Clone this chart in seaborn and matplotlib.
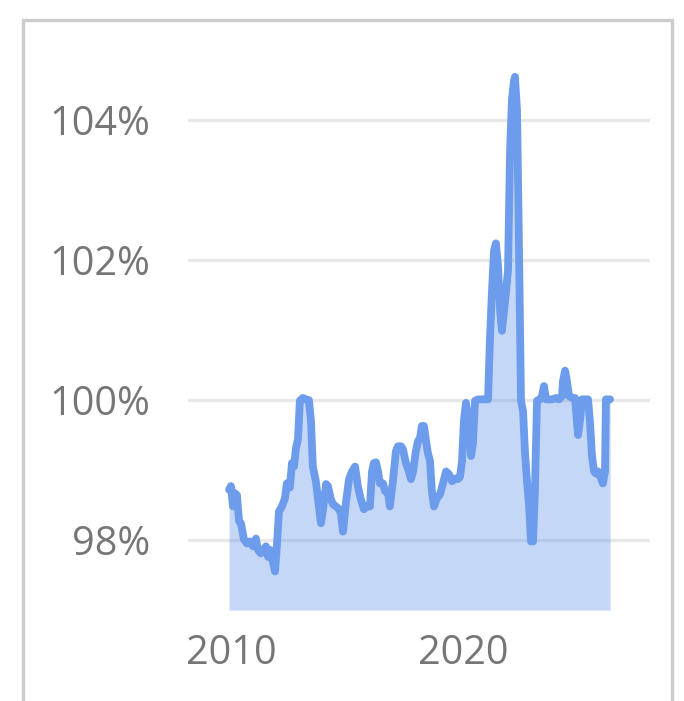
import matplotlib
matplotlib.use("Agg")
import matplotlib.pyplot as plt
from matplotlib.patches import Rectangle
import seaborn as sns
import pandas as pd

# Time (decimal year) and value (%)
years = [2009.92, 2010.00, 2010.09, 2010.17, 2010.26, 2010.35, 2010.43, 2010.56, 2010.69, 2010.82,
         2010.95, 2011.08, 2011.16, 2011.29, 2011.38, 2011.51, 2011.60, 2011.68, 2011.81, 2011.90,
         2011.98, 2012.07, 2012.20, 2012.33, 2012.41, 2012.54, 2012.63, 2012.72, 2012.80, 2012.89,
         2012.97, 2013.10, 2013.23, 2013.36, 2013.45, 2013.53, 2013.66, 2013.79, 2013.88, 2013.97,
         2014.10, 2014.18, 2014.31, 2014.40, 2014.53, 2014.66, 2014.74, 2014.83, 2014.96, 2015.09,
         2015.22, 2015.35, 2015.47, 2015.60, 2015.73, 2015.86, 2015.99, 2016.08, 2016.16, 2016.25,
         2016.34, 2016.42, 2016.55, 2016.64, 2016.77, 2016.85, 2016.98, 2017.11, 2017.20, 2017.33,
         2017.41, 2017.54, 2017.67, 2017.76, 2017.85, 2017.97, 2018.06, 2018.15, 2018.23, 2018.32,
         2018.41, 2018.49, 2018.58, 2018.66, 2018.75, 2018.88, 2019.01, 2019.14, 2019.27, 2019.40,
         2019.53, 2019.66, 2019.78, 2019.87, 2019.96, 2020.04, 2020.13, 2020.26, 2020.35, 2020.43,
         2020.52, 2020.65, 2020.78, 2020.95, 2021.08, 2021.16, 2021.25, 2021.34, 2021.42, 2021.51,
         2021.60, 2021.68, 2021.77, 2021.85, 2021.94, 2022.03, 2022.11, 2022.20, 2022.24, 2022.33,
         2022.41, 2022.50, 2022.59, 2022.67, 2022.76, 2022.85, 2022.93, 2023.02, 2023.10, 2023.19,
         2023.32, 2023.41, 2023.49, 2023.58, 2023.71, 2023.84, 2024.01, 2024.14, 2024.27, 2024.31,
         2024.40, 2024.48, 2024.57, 2024.70, 2024.83, 2024.91, 2024.96, 2025.04, 2025.13, 2025.26,
         2025.39, 2025.47, 2025.56, 2025.65, 2025.73, 2025.82, 2025.91, 2026.03, 2026.12, 2026.16,
         2026.34]
values = [98.72, 98.77, 98.48, 98.67, 98.64, 98.27, 98.24, 98.01, 97.95, 97.98,
          97.91, 98.02, 97.86, 97.81, 97.86, 97.91, 97.76, 97.86, 97.69, 97.55,
          97.91, 98.41, 98.48, 98.60, 98.81, 98.75, 99.10, 99.05, 99.31, 99.44,
          99.99, 100.03, 100.01, 100.00, 99.70, 99.05, 98.84, 98.48, 98.24, 98.44,
          98.80, 98.77, 98.58, 98.51, 98.48, 98.44, 98.38, 98.12, 98.55, 98.87,
          98.98, 99.05, 98.77, 98.58, 98.44, 98.48, 98.48, 98.98, 99.10, 99.11,
          98.98, 98.81, 98.81, 98.70, 98.67, 98.48, 98.84, 99.27, 99.34, 99.34,
          99.30, 99.10, 98.98, 98.87, 98.98, 99.27, 99.41, 99.46, 99.63, 99.63,
          99.41, 99.24, 99.13, 98.70, 98.48, 98.60, 98.65, 98.81, 98.98, 98.94,
          98.84, 98.88, 98.87, 98.90, 99.13, 99.70, 99.96, 99.63, 99.20, 99.38,
          99.99, 100.01, 100.01, 100.01, 100.01, 100.85, 101.56, 102.14, 102.24, 101.92,
          101.28, 100.99, 101.28, 101.53, 101.85, 103.57, 104.29, 104.57, 104.62, 104.14,
          102.28, 99.99, 99.84, 99.27, 98.84, 98.48, 97.98, 97.98, 98.70, 99.99,
          100.01, 100.06, 100.20, 100.01, 100.01, 100.01, 100.03, 100.01, 100.06, 100.27,
          100.42, 100.27, 100.06, 100.03, 100.03, 99.70, 99.50, 99.70, 100.01, 100.01,
          100.01, 99.70, 99.20, 98.98, 98.95, 98.98, 98.91, 98.81, 98.98, 100.01,
          100.01]

y_ticks = [98, 100, 102, 104]
y_tick_labels = ["98%", "100%", "102%", "104%"]
x_ticks = [2010, 2020]
x_tick_labels = ["2010", "2020"]

df = pd.DataFrame({"year": years, "value": values})

sns.set_theme(style="white")
plt.rcParams["font.family"] = ["Open Sans", "DejaVu Sans"]

W, H = 684, 701
fig = plt.figure(figsize=(W / 100, H / 100), dpi=100)
fig.patch.set_facecolor("white")

ax_left, ax_right, ax_top, ax_bottom = 188, 650, 60, 610
ax = fig.add_axes([ax_left / W, 1 - ax_bottom / H, (ax_right - ax_left) / W, (ax_bottom - ax_top) / H])

line_color = "#6c9ceb"
ymin, ymax = 97.0, 104.86

ax.fill_between(df["year"], df["value"], ymin, color=line_color, alpha=0.4, linewidth=0, zorder=2)
sns.lineplot(data=df, x="year", y="value", ax=ax, color=line_color, linewidth=5.6,
             solid_joinstyle="round", solid_capstyle="round", zorder=3)

ax.set_ylim(ymin, ymax)
ax.set_xlim(2008.15, 2028.06)
ax.set_yticks(y_ticks)
ax.set_yticklabels(y_tick_labels)
ax.set_xticks(x_ticks)
ax.set_xticklabels(x_tick_labels)
ax.set_xlabel("")
ax.set_ylabel("")

ax.grid(axis="y", color="#e8e8e8", linewidth=2.4, zorder=1)
ax.grid(axis="x", visible=False)
ax.set_axisbelow(True)
for s in ax.spines.values():
    s.set_visible(False)

ax.tick_params(axis="both", length=0, labelsize=28.5, labelcolor="#767676")
ax.tick_params(axis="y", pad=27)
ax.tick_params(axis="x", pad=17)

# outer light-gray frame (open at the bottom)
frame = Rectangle((23 / W, -0.05), (672 - 23) / W, (1 - 20 / H) + 0.05,
                  transform=fig.transFigure, fill=False, edgecolor="#cccccc",
                  linewidth=2.4, zorder=10)
fig.patches.append(frame)

fig.savefig("out.png", dpi=100, facecolor="white")
